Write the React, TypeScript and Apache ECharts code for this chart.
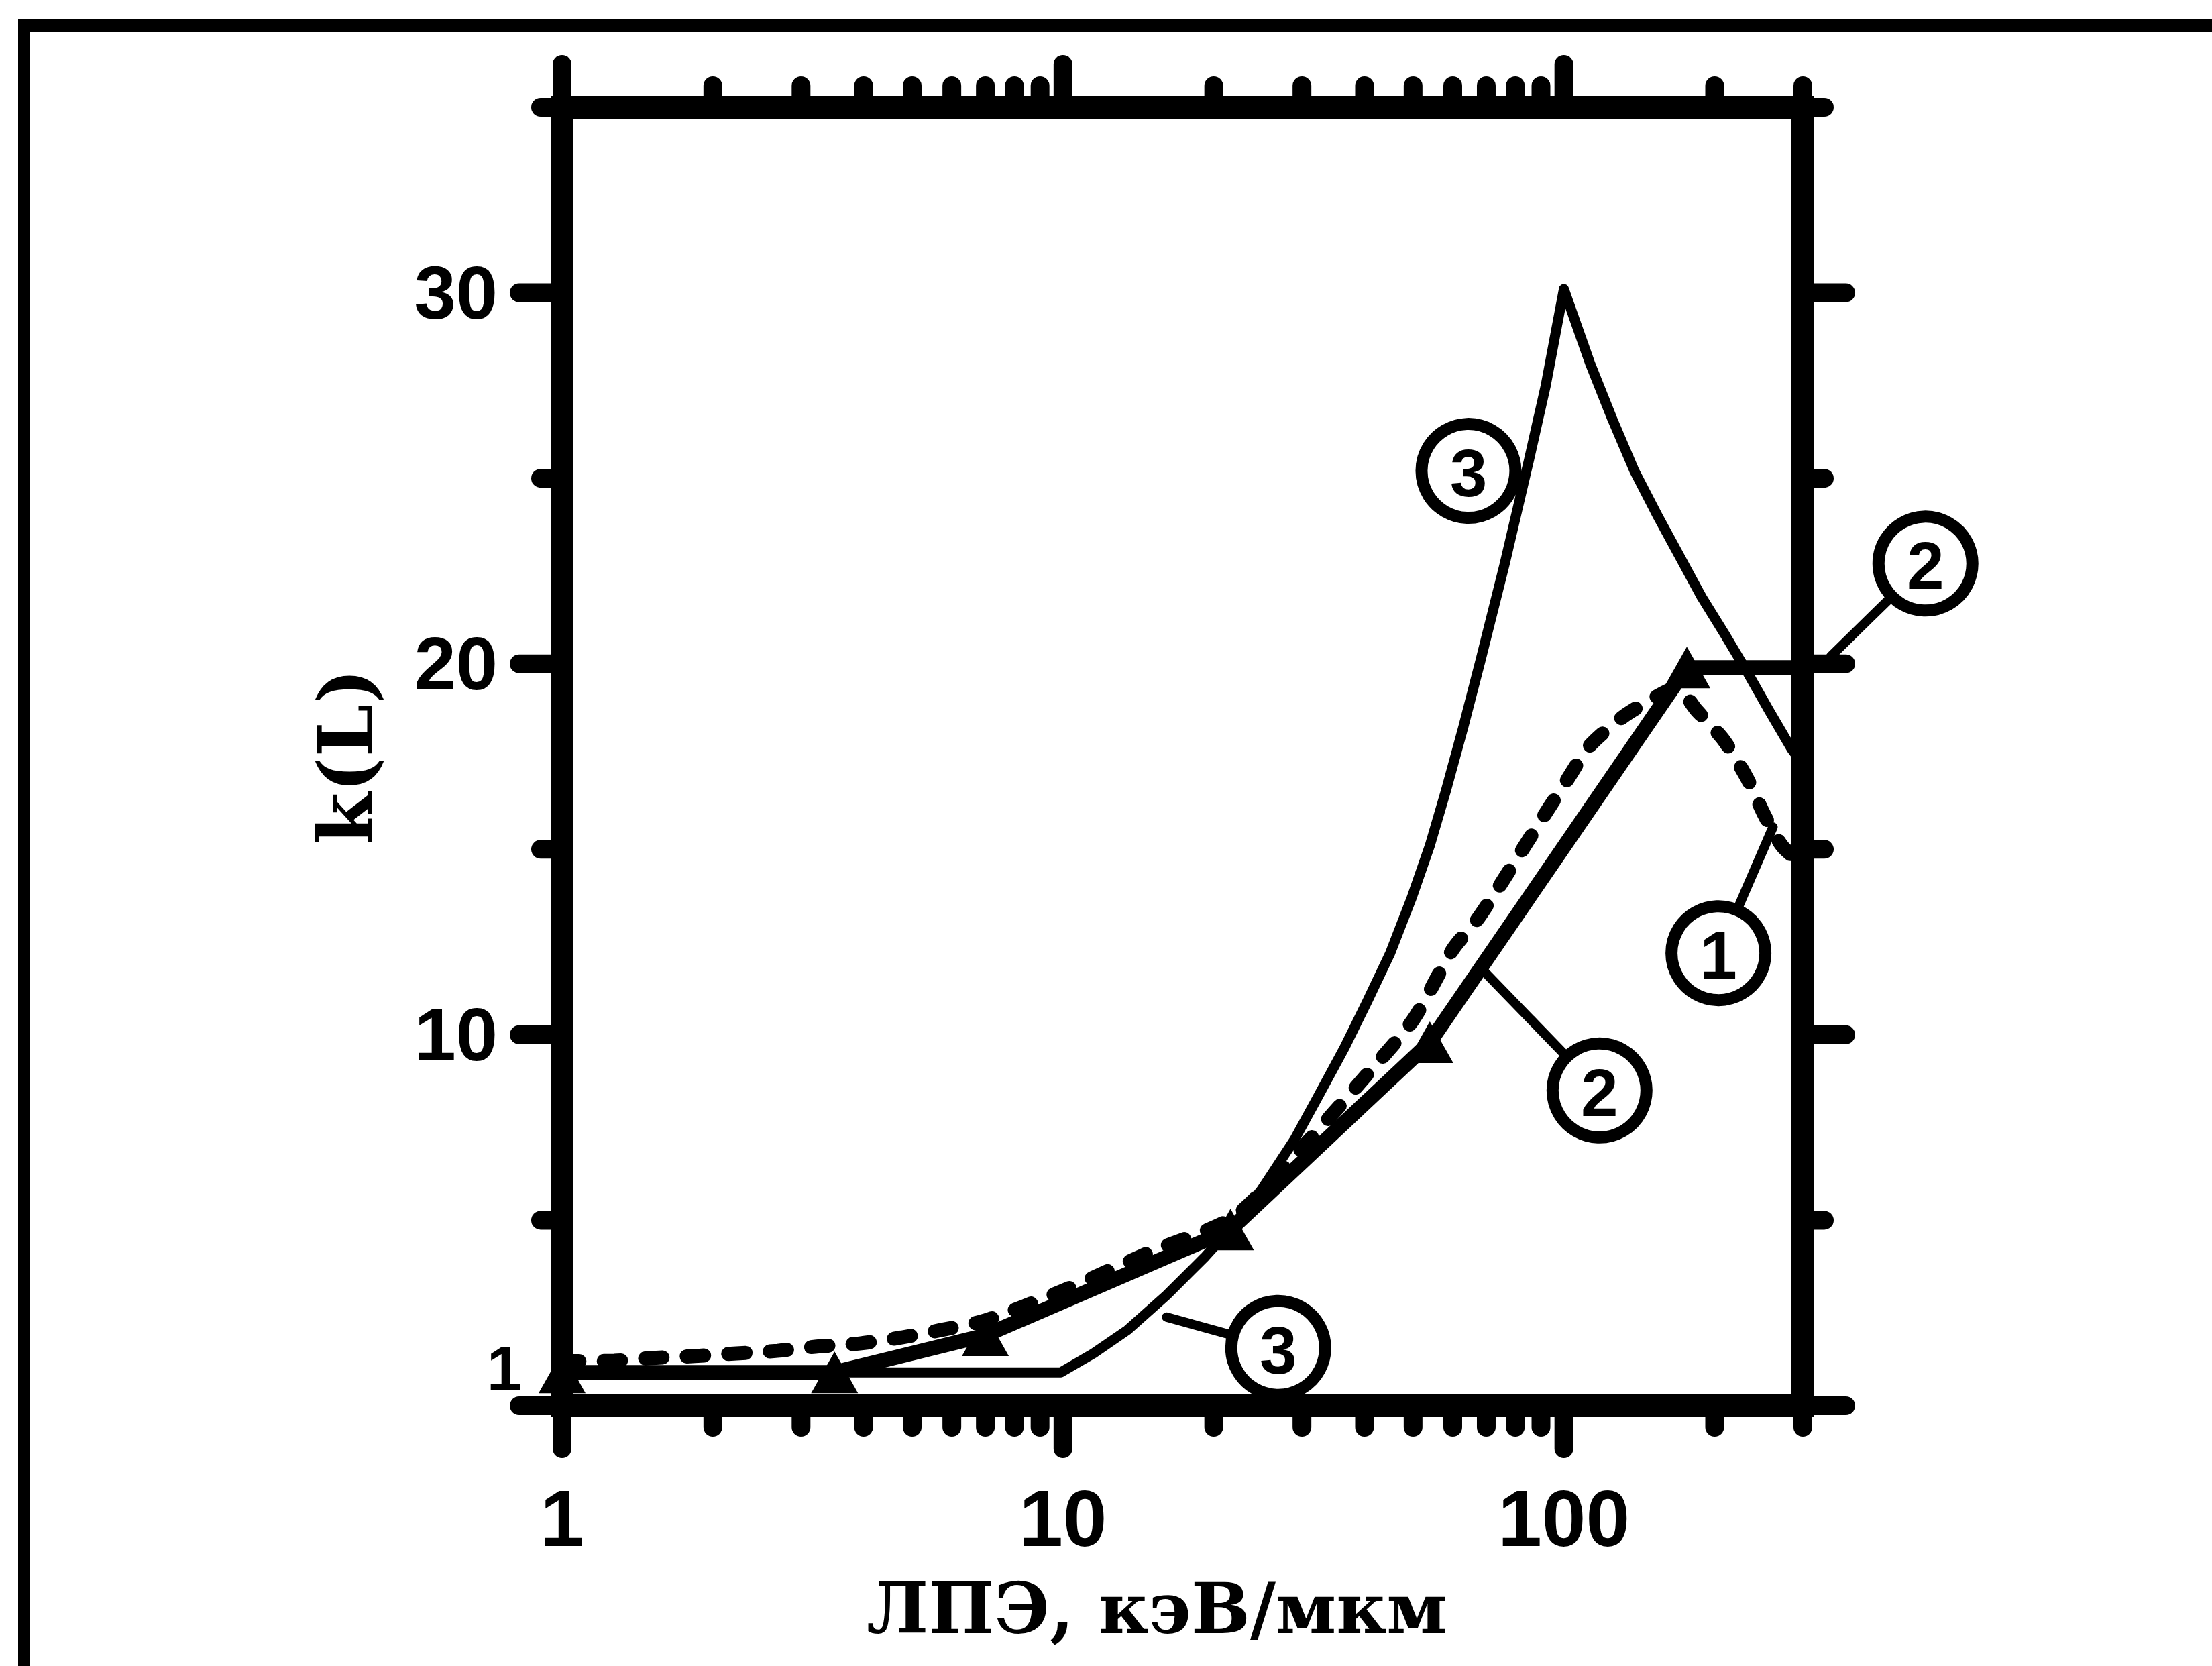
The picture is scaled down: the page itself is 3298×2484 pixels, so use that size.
import React, { useEffect, useRef } from 'react';
import * as echarts from 'echarts';

// ---- data ----
const xTickLabels = [1, 10, 100];
const yTickLabels = [1, 10, 20, 30];
const xMajorTicks = [1, 10, 100];
const xMinorTicks = [2, 3, 4, 5, 6, 7, 8, 9, 20, 30, 40, 50, 60, 70, 80, 90, 200, 300];
const yMajorTicks = [0, 10, 20, 30];
const yMinorTicks = [5, 15, 25, 35];

// curve 1 (dashed)
const curve1 = [
  [1, 1.2], [1.27, 1.21], [1.52, 1.29], [1.84, 1.34], [2.23, 1.41], [2.69, 1.48], [3.25, 1.6],
  [3.93, 1.68], [4.76, 1.84], [5.7, 2.04], [7, 2.3], [10, 3.1], [15, 4.15], [22, 5.1], [30, 6.95],
  [40, 8.85], [50, 10.4], [60, 12.3], [67.1, 13.1], [74.3, 14.0], [82.3, 14.95], [91.2, 15.9],
  [101.3, 16.85], [112.8, 17.8], [131.2, 18.57], [150, 19.05], [168, 19.35], [184, 18.75],
  [208.6, 17.94], [231.8, 16.93], [251.9, 15.9], [273, 15.08], [300, 14.6],
];
// curve 2 (thick, triangles)
const curve2 = [[1, 0.9], [3.5, 0.9], [7, 1.9], [21.6, 4.75], [54, 9.8], [176, 19.9], [300, 19.9]];
// curve 3 (thin)
const curve3 = [
  [1, 0.9], [9.9, 0.9], [11.5, 1.41], [13.45, 2.04], [16.1, 2.98], [19.26, 4.03], [21.86, 4.85],
  [24.9, 5.82], [29, 7.18], [32.2, 8.3], [36.5, 9.66], [40.5, 10.9], [45, 12.2], [49.7, 13.7],
  [54, 15.1], [58.2, 16.6], [63, 18.3], [68.2, 20.1], [76.2, 22.7], [85.2, 25.5], [92, 27.5],
  [100, 30.1], [112.8, 28.1], [124.9, 26.6], [138.3, 25.2], [153.7, 24.0], [170.2, 22.9],
  [188.4, 21.8], [209.4, 20.8], [231.8, 19.8], [256.6, 18.75], [285, 17.7], [300, 17.3],
];

// circled labels: text, centre (data units), leader end (data units)
const labelTexts = ['3', '2', '1', '2', '3'];
const labelCenters = [[64.5, 25.2], [527, 22.7], [203.5, 12.2], [117.8, 8.5], [26.9, 1.56]];
const leaderEnds: (number[] | null)[] = [null, [341, 20.2], [261.5, 15.6], [68.6, 11.77], [16.1, 2.39]];

const CIRCLE_R = 70;
const TICK_MAJOR = 64;
const TICK_MINOR = 32;

export default function App() {
  const ref = useRef<HTMLDivElement>(null);
  useEffect(() => {
    const chart = echarts.init(ref.current as HTMLDivElement, null, { renderer: 'svg' });

    const xTickData = [
      ...xMajorTicks.flatMap((v) => [[v, 0, 1], [v, 35, 1]]),
      ...xMinorTicks.flatMap((v) => [[v, 0, 0], [v, 35, 0]]),
    ];
    const yTickData = [
      ...yMajorTicks.flatMap((v) => [[1, v, 1], [300, v, 1]]),
      ...yMinorTicks.flatMap((v) => [[1, v, 0], [300, v, 0]]),
    ];
    const tickStyle = { stroke: '#000', lineWidth: 28, lineCap: 'round' };

    const option: any = {
      animation: false,
      backgroundColor: '#fff',
      grid: {
        left: 838, right: 610, top: 160, bottom: 388,
        show: true, borderWidth: 34, borderColor: '#000', backgroundColor: 'transparent',
      },
      xAxis: {
        type: 'log', logBase: 10, min: 1, max: 300,
        axisLine: { show: false }, axisTick: { show: false }, splitLine: { show: false },
        axisLabel: {
          formatter: (v: number) => {
            const t = xTickLabels.find((k) => Math.abs(k - v) / k < 1e-6);
            return t === undefined ? '' : String(t);
          },
          fontSize: 118, fontWeight: 'bold', fontFamily: 'Liberation Sans', color: '#000',
          margin: 168, verticalAlign: 'middle',
        },
        name: 'ЛПЭ, кэВ/мкм', nameLocation: 'middle', nameGap: 302,
        nameTextStyle: {
          fontFamily: 'DejaVu Serif', fontWeight: 'bold', fontSize: 104, color: '#000',
          verticalAlign: 'middle', align: 'center', padding: [0, 76, 0, 0],
        },
      },
      yAxis: {
        type: 'value', min: 0, max: 35, interval: 1,
        axisLine: { show: false }, axisTick: { show: false }, splitLine: { show: false },
        axisLabel: {
          interval: 0,
          formatter: (v: number) => {
            if (!yTickLabels.includes(v)) return '';
            return v === 1 ? '{s|1}' : '{n|' + v + '}';
          },
          margin: 60, color: '#000',
          rich: {
            n: { fontSize: 112, fontWeight: 'bold', fontFamily: 'Liberation Sans', color: '#000', padding: [0, 36, 0, 0] },
            s: { fontSize: 94, fontWeight: 'bold', fontFamily: 'Liberation Sans', color: '#000' },
          },
        },
        name: 'k(L)', nameLocation: 'middle', nameGap: 323, nameRotate: 90,
        nameTextStyle: {
          fontFamily: 'DejaVu Serif', fontWeight: 'bold', fontSize: 112, color: '#000',
          verticalAlign: 'middle', align: 'center',
        },
      },
      graphic: [
        {
          type: 'rect', silent: true, z: -1,
          shape: { x: 36, y: 38, width: 6000, height: 6000 },
          style: { fill: 'none', stroke: '#000', lineWidth: 18 },
        },
      ],
      series: [
        {
          type: 'custom', name: 'xticks', coordinateSystem: 'cartesian2d', clip: false,
          encode: { x: 0, y: 1 }, data: xTickData, silent: true,
          renderItem: (params: any, api: any) => {
            const x = api.value(0), y = api.value(1), major = api.value(2);
            const p = api.coord([x, y]);
            const dir = y < 17 ? 1 : -1;
            const len = major ? TICK_MAJOR : TICK_MINOR;
            return { type: 'line', shape: { x1: p[0], y1: p[1], x2: p[0], y2: p[1] + dir * len }, style: tickStyle };
          },
        },
        {
          type: 'custom', name: 'yticks', coordinateSystem: 'cartesian2d', clip: false,
          encode: { x: 0, y: 1 }, data: yTickData, silent: true,
          renderItem: (params: any, api: any) => {
            const x = api.value(0), y = api.value(1), major = api.value(2);
            const p = api.coord([x, y]);
            const dir = x < 10 ? -1 : 1;
            const len = major ? TICK_MAJOR : TICK_MINOR;
            return { type: 'line', shape: { x1: p[0], y1: p[1], x2: p[0] + dir * len, y2: p[1] }, style: tickStyle };
          },
        },
        {
          type: 'line', name: '3', data: curve3, showSymbol: false, clip: false,
          lineStyle: { color: '#000', width: 15, join: 'round' },
        },
        {
          type: 'line', name: '1', data: curve1, showSymbol: false, clip: false, smooth: 0.25,
          lineStyle: { color: '#000', width: 21, type: [26, 36], cap: 'round' },
        },
        {
          type: 'line', name: '2', clip: false,
          data: curve2.map((p, i) => (i === curve2.length - 1 ? { value: p, symbol: 'none' } : { value: p })),
          symbol: 'triangle', symbolSize: [70, 62], showSymbol: true,
          itemStyle: { color: '#000' },
          lineStyle: { color: '#000', width: 22 },
        },
        {
          type: 'custom', name: 'labels', coordinateSystem: 'cartesian2d', clip: false,
          encode: { x: 0, y: 1 }, silent: true, z: 5,
          data: labelCenters.map((c, i) => [c[0], c[1], i]),
          renderItem: (params: any, api: any) => {
            const i = api.value(2);
            const c = api.coord([api.value(0), api.value(1)]);
            const children: any[] = [];
            const end = leaderEnds[i];
            if (end) {
              const t = api.coord(end);
              const dx = t[0] - c[0], dy = t[1] - c[1];
              const d = Math.hypot(dx, dy) || 1;
              const r0 = CIRCLE_R + 8;
              children.push({
                type: 'line',
                shape: { x1: c[0] + (dx / d) * r0, y1: c[1] + (dy / d) * r0, x2: t[0], y2: t[1] },
                style: { stroke: '#000', lineWidth: 14, lineCap: 'round' },
              });
            }
            children.push({
              type: 'circle', shape: { cx: c[0], cy: c[1], r: CIRCLE_R },
              style: { fill: 'none', stroke: '#000', lineWidth: 18 },
            });
            children.push({
              type: 'text',
              style: {
                text: labelTexts[i], x: c[0], y: c[1] + 3, align: 'center', verticalAlign: 'middle',
                fontSize: 100, fontWeight: 'bold', fontFamily: 'Liberation Sans', fill: '#000',
              },
            });
            return { type: 'group', children };
          },
        },
      ],
    };
    chart.setOption(option);
    return () => chart.dispose();
  }, []);
  return (
    <div
      ref={ref}
      style={{ position: 'absolute', left: 0, top: 0, width: 3298, height: 2484, background: '#fff' }}
    />
  );
}
